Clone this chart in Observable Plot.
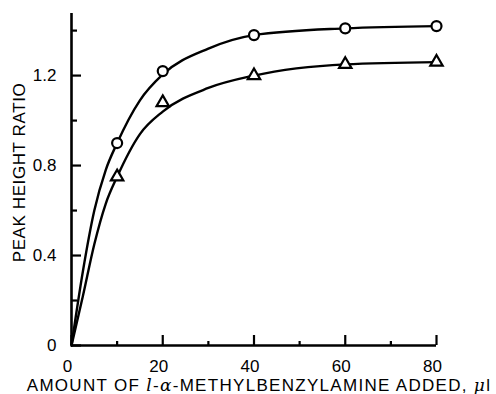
<!DOCTYPE html>
<html>
<head>
<meta charset="utf-8">
<script src="https://cdn.jsdelivr.net/npm/d3@7"></script>
<script src="https://cdn.jsdelivr.net/npm/@observablehq/plot@0.6"></script>
<style>
  html, body { margin: 0; padding: 0; background: #fff; }
</style>
</head>
<body>
<div id="chart"></div>
<script>
// ---- data: measured points ----
const amountAdded = [10, 20, 40, 60, 80];             // µl
const circleRatio = [0.90, 1.22, 1.38, 1.41, 1.42];   // open circles
const triangleRatio = [0.75, 1.08, 1.20, 1.25, 1.26]; // open triangles

// ---- data: drawn smooth (fitted) curves ----
const curveX =        [0, 2.5, 5, 7.5, 10, 15, 20, 30, 40, 60, 80];
const circleCurve =   [0, 0.33, 0.60, 0.78, 0.90, 1.09, 1.205, 1.32, 1.38, 1.41, 1.42];
const triangleCurve = [0, 0.22, 0.45, 0.63, 0.75, 0.94, 1.04, 1.145, 1.20, 1.25, 1.26];

// ---- axes ----
const xMajorTicks = [0, 20, 40, 60, 80];
const xMinorTicks = [10, 30, 50, 70];
const xTickLabels = ["0", "20", "40", "60", "80"];
const yMajorTicks = [0, 0.4, 0.8, 1.2];
const yMinorTicks = [0.2, 0.6, 1.0, 1.4];
const yTickLabels = ["0", "0.4", "0.8", "1.2"];

const yLabel = "PEAK HEIGHT RATIO";
const xLabel = "AMOUNT OF l-α-METHYLBENZYLAMINE ADDED, μl";

// ---- build tables ----
const circles = amountAdded.map((x, i) => ({ x, y: circleRatio[i] }));
const triangles = amountAdded.map((x, i) => ({ x, y: triangleRatio[i] }));
const circleLine = curveX.map((x, i) => ({ x, y: circleCurve[i] }));
const triangleLine = curveX.map((x, i) => ({ x, y: triangleCurve[i] }));
const xTickTable = xMajorTicks.map((v, i) => ({ v, label: xTickLabels[i] }));
const yTickTable = yMajorTicks.map((v, i) => ({ v, label: yTickLabels[i] }));

const W = 496, H = 394;
const mL = 71, mR = 60, mT = 13, mB = 49;
const frameW = W - mL - mR, frameH = H - mT - mB;
const FONT = "'Liberation Sans', Arial, Helvetica, sans-serif";

const chart = Plot.plot({
  width: W,
  height: H,
  marginLeft: mL,
  marginRight: mR,
  marginTop: mT,
  marginBottom: mB,
  style: { fontFamily: FONT, fontSize: "17px", color: "#000", background: "#fff" },
  x: { domain: [0, 80], axis: null },
  y: { domain: [0, 1.476], axis: null },
  marks: [
    // tick labels
    Plot.text(xTickTable, { x: "v", text: "label", frameAnchor: "bottom", textAnchor: "middle",
                            lineAnchor: "top", dx: -4, dy: 14, fontSize: 17, fill: "#000" }),
    Plot.text(yTickTable, { y: "v", text: "label", frameAnchor: "left", textAnchor: "end",
                            lineAnchor: "middle", dx: -15, fontSize: 17, fill: "#000" }),
    // inward ticks
    Plot.tickX(xMajorTicks, { x: (d) => d, insetTop: frameH - 10, stroke: "#000", strokeWidth: 2.2 }),
    Plot.tickX(xMinorTicks, { x: (d) => d, insetTop: frameH - 4, stroke: "#000", strokeWidth: 2.2 }),
    Plot.tickY(yMajorTicks, { y: (d) => d, insetRight: frameW - 10, stroke: "#000", strokeWidth: 2.2 }),
    Plot.tickY(yMinorTicks, { y: (d) => d, insetRight: frameW - 6, stroke: "#000", strokeWidth: 2.2 }),
    // axis lines
    Plot.ruleX([0], { stroke: "#000", strokeWidth: 2.6 }),
    Plot.ruleY([0], { stroke: "#000", strokeWidth: 2.6 }),
    // curves
    Plot.line(circleLine, { x: "x", y: "y", curve: "monotone-x", stroke: "#000", strokeWidth: 2.4 }),
    Plot.line(triangleLine, { x: "x", y: "y", curve: "monotone-x", stroke: "#000", strokeWidth: 2.4 }),
    // markers
    Plot.dot(circles, { x: "x", y: "y", symbol: "circle", r: 5, fill: "#fff", stroke: "#000", strokeWidth: 2.2 }),
    Plot.dot(triangles, { x: "x", y: "y", symbol: "triangle", r: 4.6, fill: "#fff", stroke: "#000", strokeWidth: 2.2 }),
    // axis titles
    Plot.text([yLabel], { text: (d) => d, frameAnchor: "left", textAnchor: "middle", lineAnchor: "middle",
                          rotate: -90, dx: -52, dy: -7, fontSize: 17, fill: "#000" }),
    Plot.text([xLabel], { text: (d) => d, frameAnchor: "bottom", textAnchor: "middle", lineAnchor: "middle",
                          dx: 5, dy: 40, fontSize: 17, fill: "#000" })
  ]
});

document.getElementById("chart").appendChild(chart);

const texts = d3.select(chart).selectAll("text");
texts.filter(function () { return this.textContent === yLabel; })
  .style("letter-spacing", "0.6px");

// Style italic parts of the x label (l, α, μ) while keeping it real text
texts.filter(function () { return this.textContent === xLabel; })
  .each(function () {
    const t = d3.select(this);
    t.text(null).style("letter-spacing", "1.3px");
    const parts = [
      ["AMOUNT OF ", false], ["l", true], ["-", false], ["α", true],
      ["-METHYLBENZYLAMINE ADDED, ", false], ["μ", true], ["l", false]
    ];
    for (const [s, it] of parts) {
      const sp = t.append("tspan").text(s);
      if (it) sp.attr("font-style", "italic").attr("font-family", "'DejaVu Serif', serif");
    }
  });
</script>
</body>
</html>
